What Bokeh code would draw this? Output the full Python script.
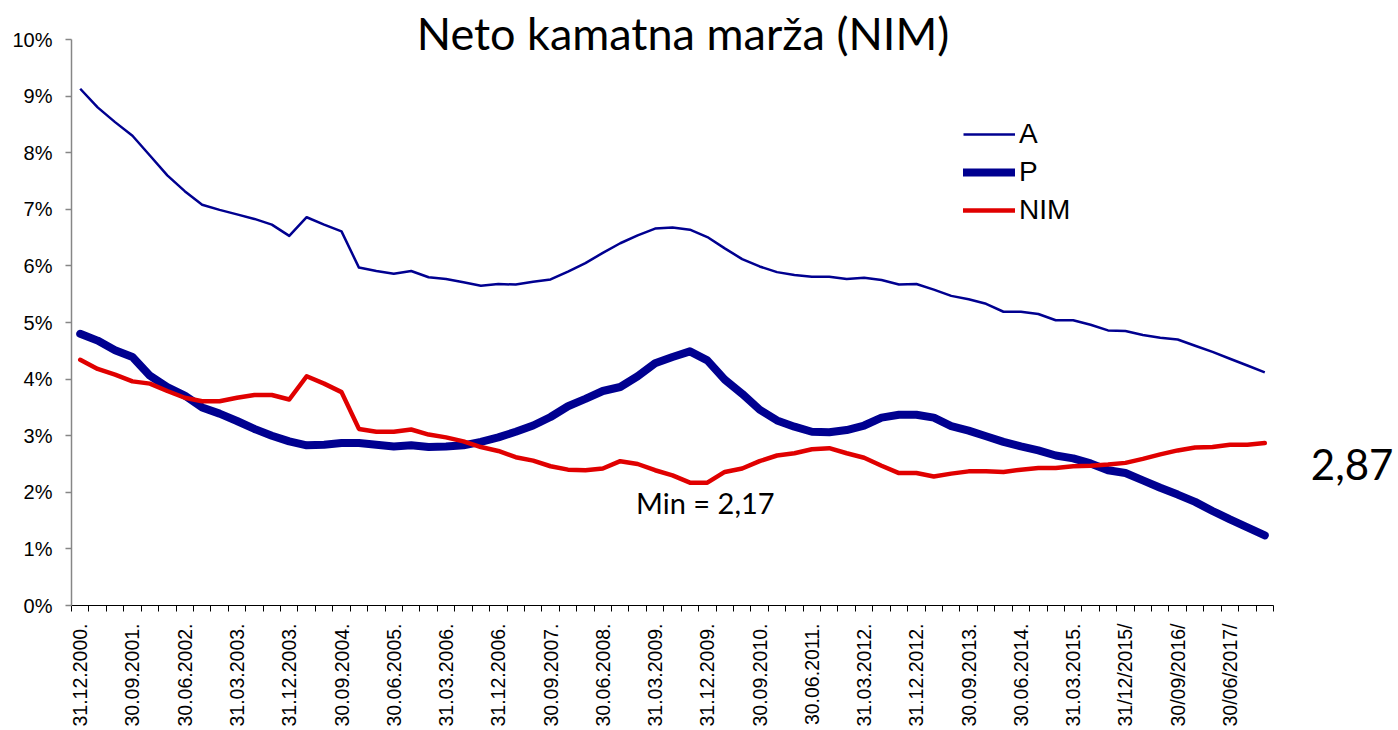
import math
from bokeh.plotting import figure
from bokeh.models import Range1d, FixedTicker, Legend, LegendItem, Label, ColumnDataSource
from bokeh.embed import file_html
from bokeh.resources import INLINE

# ---- data (quarterly, 31.12.2000 .. 31.12.2017), values in % ----
quarter_ends = [("31", "03"), ("30", "06"), ("30", "09"), ("31", "12")]
categories = []
for k in range(69):
    q = (3 + k) % 4
    yr = 2000 + (3 + k) // 4
    d, m = quarter_ends[q]
    categories.append(f"{d}.{m}.{yr}." if k < 60 else f"{d}/{m}/{yr}/")

A = [9.13, 8.80, 8.54, 8.30, 7.95, 7.60, 7.32, 7.08, 6.99, 6.91,
     6.83, 6.73, 6.53, 6.86, 6.73, 6.61, 5.97, 5.91, 5.86, 5.91,
     5.80, 5.77, 5.71, 5.65, 5.68, 5.67, 5.72, 5.76, 5.90, 6.05,
     6.23, 6.40, 6.54, 6.66, 6.68, 6.64, 6.51, 6.31, 6.12, 5.99,
     5.89, 5.84, 5.81, 5.81, 5.77, 5.79, 5.75, 5.67, 5.68, 5.58,
     5.47, 5.41, 5.33, 5.19, 5.19, 5.15, 5.04, 5.04, 4.96, 4.86,
     4.85, 4.78, 4.73, 4.70, 4.59, 4.48, 4.36, 4.24, 4.12]
P = [4.80, 4.68, 4.51, 4.39, 4.06, 3.86, 3.71, 3.50, 3.39, 3.26,
     3.12, 3.00, 2.90, 2.83, 2.84, 2.87, 2.87, 2.84, 2.81, 2.83,
     2.80, 2.81, 2.83, 2.89, 2.97, 3.07, 3.18, 3.33, 3.52, 3.65,
     3.79, 3.86, 4.05, 4.28, 4.39, 4.49, 4.33, 3.99, 3.74, 3.46,
     3.27, 3.16, 3.07, 3.06, 3.10, 3.18, 3.32, 3.37, 3.37, 3.32,
     3.17, 3.09, 2.99, 2.89, 2.81, 2.74, 2.65, 2.60, 2.51, 2.39,
     2.34, 2.21, 2.08, 1.96, 1.83, 1.67, 1.52, 1.38, 1.24]
NIM = [4.34, 4.18, 4.08, 3.96, 3.92, 3.79, 3.67, 3.61, 3.61, 3.67,
       3.72, 3.72, 3.64, 4.05, 3.92, 3.77, 3.12, 3.07, 3.07, 3.11,
       3.02, 2.97, 2.90, 2.80, 2.73, 2.62, 2.56, 2.46, 2.40, 2.39,
       2.42, 2.55, 2.50, 2.39, 2.30, 2.17, 2.17, 2.36, 2.42, 2.55,
       2.65, 2.69, 2.76, 2.78, 2.69, 2.61, 2.47, 2.34, 2.34, 2.28,
       2.33, 2.37, 2.37, 2.36, 2.40, 2.43, 2.43, 2.46, 2.47, 2.49,
       2.52, 2.59, 2.67, 2.74, 2.79, 2.80, 2.84, 2.84, 2.87]

y_ticks = list(range(0, 11))
y_tick_labels = [f"{t}%" for t in y_ticks]
label_step = 3

NAVY = "#000090"
RED = "#E00000"
AX_FONT = "Liberation Sans"
TXT_FONT = "Lato"

W, H = 1398, 730
LEFT, BOTTOM = 71, 125
n = len(categories)
px_per_cat = 1202 / n          # category width in px
px_per_pct = 566 / 10          # px per 1 % on the y axis
frame_w, frame_h = W - LEFT, H - BOTTOM

idx = list(range(n))
src = ColumnDataSource(dict(x=idx, cat=categories, A=A, P=P, NIM=NIM))

# frame extends to the top / right edges so the title and end label are not clipped;
# the axes are bounded to the data area
p = figure(width=W, height=H, title=None,
           x_range=Range1d(-0.5, -0.5 + frame_w / px_per_cat),
           y_range=Range1d(0, frame_h / px_per_pct),
           output_backend="svg", toolbar_location=None,
           min_border_left=LEFT, min_border_right=0, min_border_top=0, min_border_bottom=BOTTOM)
p.outline_line_color = None
p.xgrid.visible = False
p.ygrid.visible = False
p.background_fill_color = "white"
p.border_fill_color = "white"

# y axis
ya = p.yaxis[0]
ya.bounds = (0, 10)
ya.ticker = FixedTicker(ticks=y_ticks)
ya.major_label_overrides = {t: l for t, l in zip(y_ticks, y_tick_labels)}
ya.axis_line_color = "#868686"
ya.axis_line_width = 1.5
ya.major_tick_line_color = "#868686"
ya.major_tick_line_width = 1.5
ya.major_tick_out = 6
ya.major_tick_in = 0
ya.minor_tick_line_color = None
ya.major_label_text_font = AX_FONT
ya.major_label_text_font_size = "20px"
ya.major_label_text_color = "black"
ya.major_label_standoff = 13

# x axis (category style: ticks between categories, labels every 3rd)
xa = p.xaxis[0]
xa.bounds = (-0.5, n - 0.5)
shown = idx[::label_step]
xa.ticker = FixedTicker(ticks=shown, minor_ticks=[i - 0.5 for i in range(n + 1)])
xa.major_label_overrides = {i: categories[i] for i in shown}
xa.axis_line_color = "black"
xa.axis_line_width = 1.2
xa.major_tick_line_color = None
xa.major_tick_out = 0
xa.major_tick_in = 0
xa.minor_tick_line_color = "black"
xa.minor_tick_out = 6
xa.minor_tick_in = 0
xa.major_label_orientation = math.pi / 2
xa.major_label_text_font = AX_FONT
xa.major_label_text_font_size = "19.5px"
xa.major_label_text_color = "black"
xa.major_label_standoff = 12

rA = p.line("x", "A", source=src, line_color=NAVY, line_width=2.5, line_join="round")
rP = p.line("x", "P", source=src, line_color=NAVY, line_width=8, line_join="round", line_cap="round")
rN = p.line("x", "NIM", source=src, line_color=RED, line_width=4.5, line_join="round", line_cap="round")

legend = Legend(items=[LegendItem(label="A", renderers=[rA]),
                       LegendItem(label="P", renderers=[rP]),
                       LegendItem(label="NIM", renderers=[rN])],
                location=(892, 376), orientation="vertical",
                glyph_width=52, glyph_height=38, label_height=38, label_standoff=4,
                spacing=0, padding=0, margin=0,
                border_line_color=None, background_fill_alpha=0,
                label_text_font=AX_FONT, label_text_font_size="28px", label_text_color="black")
p.add_layout(legend)

# title
p.add_layout(Label(x=(n - 1) / 2, y=10, x_offset=10.5, y_offset=6.5,
                   text="Neto kamatna marža (NIM)", text_font=TXT_FONT, text_font_size="45px",
                   text_align="center", text_baseline="middle", text_color="black"))

# min annotation
nim_min = min(NIM)
i_min = max(i for i, v in enumerate(NIM) if v == nim_min)
p.add_layout(Label(x=i_min, y=nim_min, y_offset=-20, x_offset=-2,
                   text="Min = " + f"{nim_min:.2f}".replace(".", ","),
                   text_font=TXT_FONT, text_font_size="29px",
                   text_align="center", text_baseline="middle", text_color="black"))

# last value annotation
p.add_layout(Label(x=idx[-1], y=NIM[-1], x_offset=46, y_offset=-21,
                   text=f"{NIM[-1]:.2f}".replace(".", ","),
                   text_font=TXT_FONT, text_font_size="42px",
                   text_align="left", text_baseline="middle", text_color="black"))

open("out.html", "w").write(file_html(p, INLINE))
